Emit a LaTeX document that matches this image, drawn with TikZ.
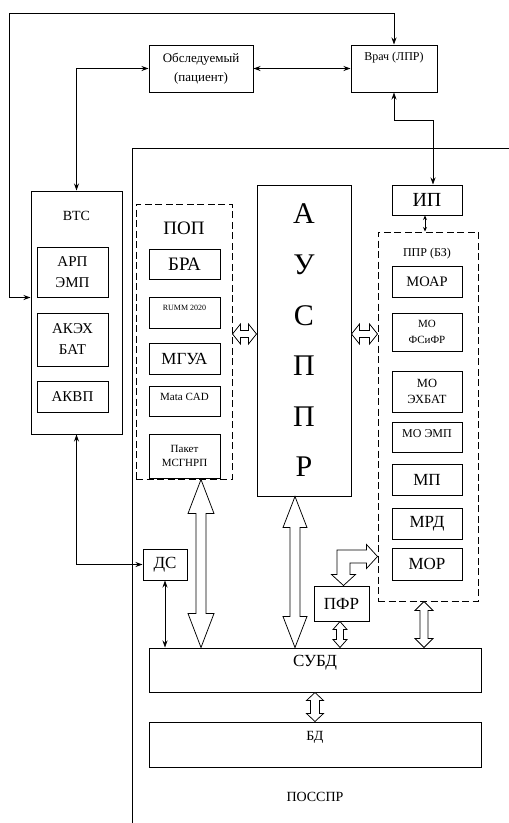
\documentclass[tikz,border=0pt]{standalone}
\usepackage{fontspec}
\setmainfont{Liberation Serif}
\usetikzlibrary{arrows.meta, calc}

% hollow double arrows: #1 position, #2 from, #3 to, #4 half shaft, #5 half head, #6 head length
\newcommand\vbus[6]{%
  \draw[bus] let \p1=(#2), \p2=(#3), \p3=(#1,0) in
    (\x3,\y1) -- (\x3+#5,\y1-#6) -- (\x3+#4,\y1-#6) -- (\x3+#4,\y2+#6) -- (\x3+#5,\y2+#6)
    -- (\x3,\y2) -- (\x3-#5,\y2+#6) -- (\x3-#4,\y2+#6) -- (\x3-#4,\y1-#6) -- (\x3-#5,\y1-#6) -- cycle;}
\newcommand\hbus[6]{%
  \draw[bus] let \p1=(#2), \p2=(#3), \p3=(0,#1) in
    (\x1,\y3) -- (\x1+#6,\y3+#5) -- (\x1+#6,\y3+#4) -- (\x2-#6,\y3+#4) -- (\x2-#6,\y3+#5)
    -- (\x2,\y3) -- (\x2-#6,\y3-#5) -- (\x2-#6,\y3-#4) -- (\x1+#6,\y3-#4) -- (\x1+#6,\y3-#5) -- cycle;}

\begin{document}
\begin{tikzpicture}[
  x=1pt, y=-1pt,
  fs/.style 2 args={font=\fontsize{#1}{#2}\selectfont},
  box/.style={draw, line width=1pt, inner sep=2pt, align=center},
  popbox/.style={box, minimum width=71},
  pprbox/.style={box, minimum width=70},
  group/.style={draw, line width=1pt, dash pattern=on 7pt off 3.5pt},
  frame/.style={draw, line width=1pt},
  link/.style={{Stealth[length=7pt,width=5pt]}-{Stealth[length=7pt,width=5pt]}, line width=0.8pt},
  shortlink/.style={{Stealth[length=4.5pt,width=4pt]}-{Stealth[length=4.5pt,width=4pt]}, line width=0.8pt},
  bus/.style={draw, fill=white, line width=0.75pt, line join=miter},
]
\useasboundingbox (0,0) rectangle (509,823);

% outside
\node[box, fs={13}{19}, minimum width=104, minimum height=47] (obs) at (201,68.5) {Обследуемый\\(пациент)};
\node[box, minimum width=86, minimum height=47,
      label={[fs={12}{14}, yshift=10.5pt]center:Врач (ЛПР)}] (vrach) at (394,68.5) {};
\coordinate (loop) at (9,13);

% ВТС
\node[box, minimum width=91, minimum height=243] (vts) at (76.5,312.5) {};
\node[fs={14}{16}] (vtsname) at (76.5,216) {ВТС};
\node[box, fs={15}{21}, minimum width=71, minimum height=50] (arp) at (72.5,272) {АРП\\ЭМП};
\node[box, fs={15}{21}, minimum width=71, minimum height=53] (akeh) at (72.5,339.5) {АКЭХ\\БАТ};
\node[box, fs={15}{21}, minimum width=71, minimum height=31] (akvp) at (72.5,396.5) {АКВП};

% ПОССПР
\draw[frame] (132,823) |- (509,148);
\node[fs={14}{16}] (posspr) at (315,797) {ПОССПР};

% ПОП
\node[group, minimum width=96, minimum height=275] (pop) at (184,341.5) {};
\node[fs={19}{22}] (popname) at (184,228) {ПОП};
\node[popbox, fs={19}{22}, minimum height=30] (bra) at (184.5,264) {БРА};
\node[popbox, minimum height=31, label={[fs={8}{10}, yshift=4.5pt]center:RUMM 2020}] (rumm) at (184.5,312.5) {};
\node[popbox, fs={17}{20}, minimum height=31] (mgua) at (184.5,358.5) {МГУА};
\node[popbox, minimum height=30, label={[fs={11}{13}, yshift=4pt]center:Mata CAD}] (mcad) at (184.5,401) {};
\node[popbox, fs={11}{14}, minimum height=44] (paket) at (184.5,456) {Пакет\\МСГНРП};

% АУСППР
\node[box, fs={30}{50.6}, minimum width=94, minimum height=311] (ausppr) at (304,340.5) {А\\У\\С\\П\\П\\Р};

% ИП, ППР
\node[pprbox, fs={20}{22}, minimum height=30] (ip) at (427,200) {ИП};
\node[group, minimum width=100, minimum height=369] (ppr) at (428,416.5) {};
\node[fs={12}{14}] (pprname) at (427,254) {ППР (БЗ)};
\node[pprbox, fs={14.5}{17}, minimum height=31] (moar) at (427,281.5) {МОАР};
\node[pprbox, fs={11}{16}, minimum height=38] (mofs) at (427,332) {МО\\ФСиФР};
\node[pprbox, fs={12.5}{16}, minimum height=41] (moeh) at (427,391.5) {МО\\ЭХБАТ};
\node[pprbox, minimum height=30, label={[fs={12}{14}, yshift=3pt]center:МО ЭМП}] (moemp) at (427,437) {};
\node[pprbox, fs={17}{20}, minimum height=31] (mp) at (427,479.5) {МП};
\node[pprbox, fs={17}{20}, minimum height=31] (mrd) at (427,523.5) {МРД};
\node[pprbox, fs={17}{20}, minimum height=32] (mor) at (427,564) {МОР};

% bottom
\node[box, fs={17}{20}, minimum width=44, minimum height=31] (ds) at (165,564.5) {ДС};
\node[box, fs={17}{20}, minimum width=55, minimum height=35] (pfr) at (341.5,603.5) {ПФР};
\node[box, minimum width=332, minimum height=44,
      label={[fs={17}{20}, yshift=7pt]center:СУБД}] (subd) at (315,670) {};
\node[box, minimum width=332, minimum height=45,
      label={[fs={14}{16}, yshift=7.5pt]center:БД}] (bd) at (315,744.5) {};
\coordinate (bend) at (343.5,556.5);

% links
\draw[link] (vrach.north) |- (loop) |- (arp.south -| vts.west);
\draw[link] (vts.north) |- (obs.west);
\draw[link] (obs.east) -- (vrach.west);
\draw[link] (vrach.south) -- ++(0,28) -| ([xshift=6pt]ip.north);
\draw[shortlink] ([xshift=-2pt]ip.south) -- ([xshift=-2pt]ip.south |- ppr.north);
\draw[link] (vts.south) |- (ds.west);
\draw[link] (ds.south) -- (ds.south |- subd.north);

% buses
\hbus{334}{pop.east}{ausppr.west}{3.5pt}{10pt}{8pt}
\hbus{334}{ausppr.east}{ppr.west}{3.5pt}{10pt}{8pt}
\vbus{201}{pop.south}{subd.north}{5pt}{13pt}{34pt}
\vbus{295}{ausppr.south}{subd.north}{5pt}{12pt}{31pt}
\vbus{340}{pfr.south}{subd.north}{3.5pt}{7pt}{8pt}
\vbus{424}{ppr.south}{subd.north}{4pt}{9pt}{9pt}
\vbus{315}{subd.south}{bd.north}{4.5pt}{8.5pt}{8pt}
\draw[bus] let \p1=(pfr.north), \p2=(ppr.west), \p3=(bend) in
  (\x3,\y1) -- (\x3+12pt,\y1+11pt) -- (\x3+6.5pt,\y1+11pt) -- (\x3+6.5pt,\y3-6.5pt)
  -- (\x2-11pt,\y3-6.5pt) -- (\x2-11pt,\y3-12pt) -- (\x2,\y3) -- (\x2-11pt,\y3+12pt)
  -- (\x2-11pt,\y3+6.5pt) -- (\x3-6.5pt,\y3+6.5pt) -- (\x3-6.5pt,\y1+11pt) -- (\x3-12pt,\y1+11pt) -- cycle;

\end{tikzpicture}
\end{document}
